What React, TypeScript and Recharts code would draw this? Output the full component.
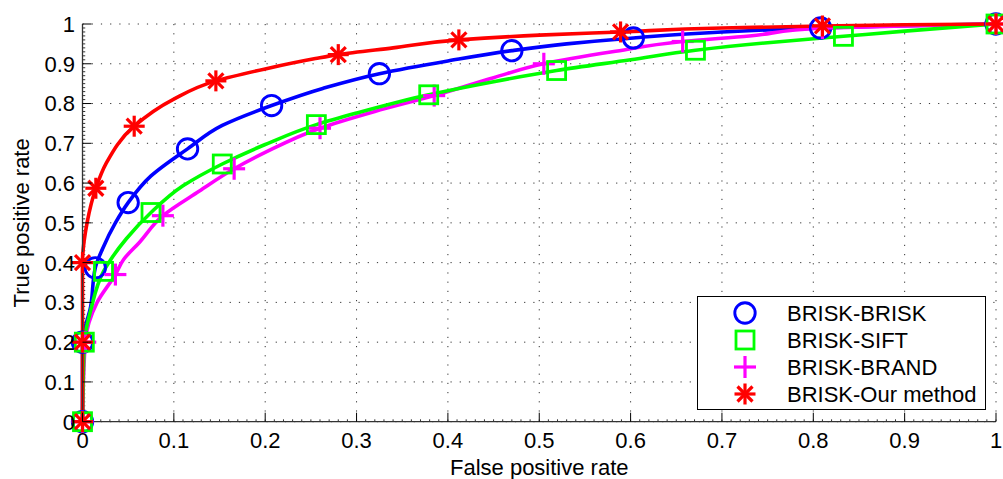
import React from 'react';
import { LineChart, Line, XAxis, YAxis, CartesianGrid, ReferenceLine, Label } from 'recharts';

const FONT = '"Liberation Sans", Arial, Helvetica, sans-serif';

const xTicks = [0, 0.1, 0.2, 0.3, 0.4, 0.5, 0.6, 0.7, 0.8, 0.9, 1];
const yTicks = [0, 0.1, 0.2, 0.3, 0.4, 0.5, 0.6, 0.7, 0.8, 0.9, 1];

// BRISK-BRISK
const blueFpr = [0.009, 0.022, 0.036, 0.075, 0.153, 0.263, 0.4, 0.53, 0.7, 0.9];
const blueTpr = [0.29, 0.435, 0.5, 0.618, 0.745, 0.838, 0.907, 0.95, 0.98, 0.996];
const blueMarkFpr = [0, 0, 0.014, 0.05, 0.115, 0.207, 0.325, 0.47, 0.603, 0.808, 1];
const blueMarkTpr = [0, 0.2, 0.387, 0.551, 0.686, 0.795, 0.875, 0.933, 0.965, 0.99, 1];

// BRISK-SIFT
const greenFpr = [0.009, 0.031, 0.048, 0.11, 0.2, 0.3, 0.45, 0.6, 0.75, 0.9];
const greenTpr = [0.28, 0.408, 0.46, 0.593, 0.697, 0.776, 0.855, 0.91, 0.953, 0.982];
const greenMarkFpr = [0, 0.002, 0.023, 0.075, 0.153, 0.256, 0.379, 0.519, 0.671, 0.833, 1];
const greenMarkTpr = [0, 0.2, 0.378, 0.526, 0.648, 0.747, 0.822, 0.883, 0.934, 0.969, 1];

// BRISK-BRAND
const magentaFpr = [0.016, 0.045, 0.062, 0.128, 0.2, 0.32, 0.45, 0.58, 0.73, 0.9];
const magentaTpr = [0.3, 0.408, 0.45, 0.58, 0.677, 0.78, 0.865, 0.93, 0.97, 0.995];
const magentaMarkFpr = [0, 0.003, 0.036, 0.088, 0.166, 0.26, 0.385, 0.505, 0.657, 0.81, 1];
const magentaMarkTpr = [0, 0.2, 0.37, 0.518, 0.636, 0.738, 0.82, 0.9, 0.956, 0.99, 1];

// BRISK-Our method
const redFpr = [0.005, 0.026, 0.099, 0.2, 0.255, 0.34, 0.5, 0.7, 0.9];
const redTpr = [0.5, 0.65, 0.81, 0.887, 0.913, 0.94, 0.972, 0.99, 0.998];
const redMarkFpr = [0, 0, 0, 0.0146, 0.0566, 0.146, 0.28, 0.412, 0.589, 0.81, 1];
const redMarkTpr = [0, 0.2, 0.4, 0.587, 0.743, 0.857, 0.923, 0.96, 0.98, 0.995, 1];

type Pt = { x: number; y: number };
type Shape = 'circle' | 'square' | 'plus' | 'star';

const toPts = (xs: number[], ys: number[]): Pt[] => xs.map((x, i) => ({ x, y: ys[i] }));

// curve passes through its markers, ordered by tpr
const buildCurve = (c: Pt[], m: Pt[]): Pt[] =>
  [...c, ...m].sort((a, b) => a.y - b.y || a.x - b.x);

const series = [
  { name: 'BRISK-BRISK', color: '#0000ff', shape: 'circle' as Shape, c: toPts(blueFpr, blueTpr), m: toPts(blueMarkFpr, blueMarkTpr) },
  { name: 'BRISK-SIFT', color: '#00ff00', shape: 'square' as Shape, c: toPts(greenFpr, greenTpr), m: toPts(greenMarkFpr, greenMarkTpr) },
  { name: 'BRISK-BRAND', color: '#ff00ff', shape: 'plus' as Shape, c: toPts(magentaFpr, magentaTpr), m: toPts(magentaMarkFpr, magentaMarkTpr) },
  { name: 'BRISK-Our method', color: '#ff0000', shape: 'star' as Shape, c: toPts(redFpr, redTpr), m: toPts(redMarkFpr, redMarkTpr) },
];

// drawing order seen in the figure (green over magenta, red on top)
const drawOrder = [0, 2, 1, 3];

const minorX: number[] = [];
const minorY: number[] = [];
for (let i = 1; i < 100; i++) {
  if (i % 10 !== 0) {
    minorX.push(i / 100);
    minorY.push(i / 100);
  }
}

const Marker = ({ shape, cx, cy, color }: { shape: Shape; cx: number; cy: number; color: string }) => {
  if (shape === 'circle') {
    return <circle cx={cx} cy={cy} r={10.2} fill="none" stroke={color} strokeWidth={2.9} />;
  }
  if (shape === 'square') {
    return <rect x={cx - 9} y={cy - 9} width={18} height={18} fill="none" stroke={color} strokeWidth={2.8} />;
  }
  if (shape === 'plus') {
    return (
      <g stroke={color} strokeWidth={3.2}>
        <line x1={cx - 11} x2={cx + 11} y1={cy} y2={cy} />
        <line x1={cx} x2={cx} y1={cy - 11} y2={cy + 11} />
      </g>
    );
  }
  const d = 7.5;
  return (
    <g stroke={color} strokeWidth={3.2}>
      <line x1={cx - 10.5} x2={cx + 10.5} y1={cy} y2={cy} />
      <line x1={cx} x2={cx} y1={cy - 10.5} y2={cy + 10.5} />
      <line x1={cx - d} x2={cx + d} y1={cy - d} y2={cy + d} />
      <line x1={cx - d} x2={cx + d} y1={cy + d} y2={cy - d} />
    </g>
  );
};

const fmt = (v: number) => (v === 0 || v === 1 ? String(v) : v.toFixed(1));

const XTick = (props: any) => {
  const { x, y, payload } = props;
  return (
    <g>
      <line x1={x} x2={x} y1={y} y2={y - 9} stroke="#000" strokeWidth={1} />
      <text x={x} y={y + 26.5} textAnchor="middle" fontFamily={FONT} fontSize={22} fill="#000">
        {fmt(payload.value)}
      </text>
    </g>
  );
};

const YTick = (props: any) => {
  const { x, y, payload } = props;
  return (
    <g>
      <line x1={x} x2={x + 9} y1={y} y2={y} stroke="#000" strokeWidth={1} />
      <text x={x - 7.5} y={y} dy="0.36em" textAnchor="end" fontFamily={FONT} fontSize={22} fill="#000">
        {fmt(payload.value)}
      </text>
    </g>
  );
};

export default function App() {
  return (
    <div style={{ position: 'absolute', left: 0, top: 0, width: 1003, height: 479, background: '#fff' }}>
      <LineChart width={1003} height={479} margin={{ top: 24, right: 7, bottom: 7.3, left: 22.5 }}>
        <CartesianGrid stroke="#333" strokeDasharray="1.2 8" horizontalValues={yTicks} verticalValues={xTicks} />
        <XAxis
          type="number"
          dataKey="x"
          domain={[0, 1]}
          ticks={xTicks}
          interval={0}
          height={50}
          tickSize={0}
          tickMargin={0}
          tickLine={false}
          tick={<XTick />}
          axisLine={{ stroke: '#333', strokeWidth: 1.3 }}
        >
          <Label
            content={(p: any) => (
              <text
                x={p.viewBox.x + p.viewBox.width / 2}
                y={p.viewBox.y + 53.3}
                textAnchor="middle"
                fontFamily={FONT}
                fontSize={22}
                fill="#000"
              >
                False positive rate
              </text>
            )}
          />
        </XAxis>
        <YAxis
          type="number"
          domain={[0, 1]}
          ticks={yTicks}
          interval={0}
          width={60}
          tickSize={0}
          tickMargin={0}
          tickLine={false}
          tick={<YTick />}
          axisLine={{ stroke: '#333', strokeWidth: 1.3 }}
        >
          <Label
            content={(p: any) => {
              const cx = p.viewBox.x + 6.5;
              const cy = p.viewBox.y + p.viewBox.height / 2;
              return (
                <text
                  x={cx}
                  y={cy}
                  transform={`rotate(-90 ${cx} ${cy})`}
                  textAnchor="middle"
                  fontFamily={FONT}
                  fontSize={22}
                  fill="#000"
                >
                  True positive rate
                </text>
              );
            }}
          />
        </YAxis>
        {minorX.map((v) => (
          <ReferenceLine
            key={`mx${v}`}
            segment={[{ x: v, y: 0 }, { x: v, y: 0.006 }]}
            stroke="#333"
            strokeWidth={1}
          />
        ))}
        {minorY.map((v) => (
          <ReferenceLine
            key={`my${v}`}
            segment={[{ x: 0, y: v }, { x: 0.003, y: v }]}
            stroke="#333"
            strokeWidth={1}
          />
        ))}
        {drawOrder.map((i) => {
          const s = series[i];
          return [
            <Line
              key={`${s.name}-curve`}
              data={buildCurve(s.c, s.m)}
              dataKey="y"
              type="monotoneY"
              stroke={s.color}
              strokeWidth={3.6}
              dot={false}
              activeDot={false}
              isAnimationActive={false}
            />,
            <Line
              key={`${s.name}-marks`}
              data={s.m}
              dataKey="y"
              stroke="none"
              dot={(p: any) => (
                <Marker key={`${s.name}-${p.index}`} shape={s.shape} cx={p.cx} cy={p.cy} color={s.color} />
              )}
              activeDot={false}
              isAnimationActive={false}
            />,
          ];
        })}
      </LineChart>
      <div
        style={{
          position: 'absolute',
          left: 697,
          top: 296,
          width: 289,
          height: 114,
          boxSizing: 'border-box',
          border: '1px solid #000',
          background: '#fff',
        }}
      >
        <svg width={287} height={112} style={{ display: 'block' }}>
          {series.map((s, i) => {
            const cy = 16 + i * 27;
            return (
              <g key={s.name}>
                <Marker shape={s.shape} cx={47} cy={cy} color={s.color} />
                <text x={89} y={cy} dy="0.36em" fontFamily={FONT} fontSize={22} fill="#000">
                  {s.name}
                </text>
              </g>
            );
          })}
        </svg>
      </div>
    </div>
  );
}
